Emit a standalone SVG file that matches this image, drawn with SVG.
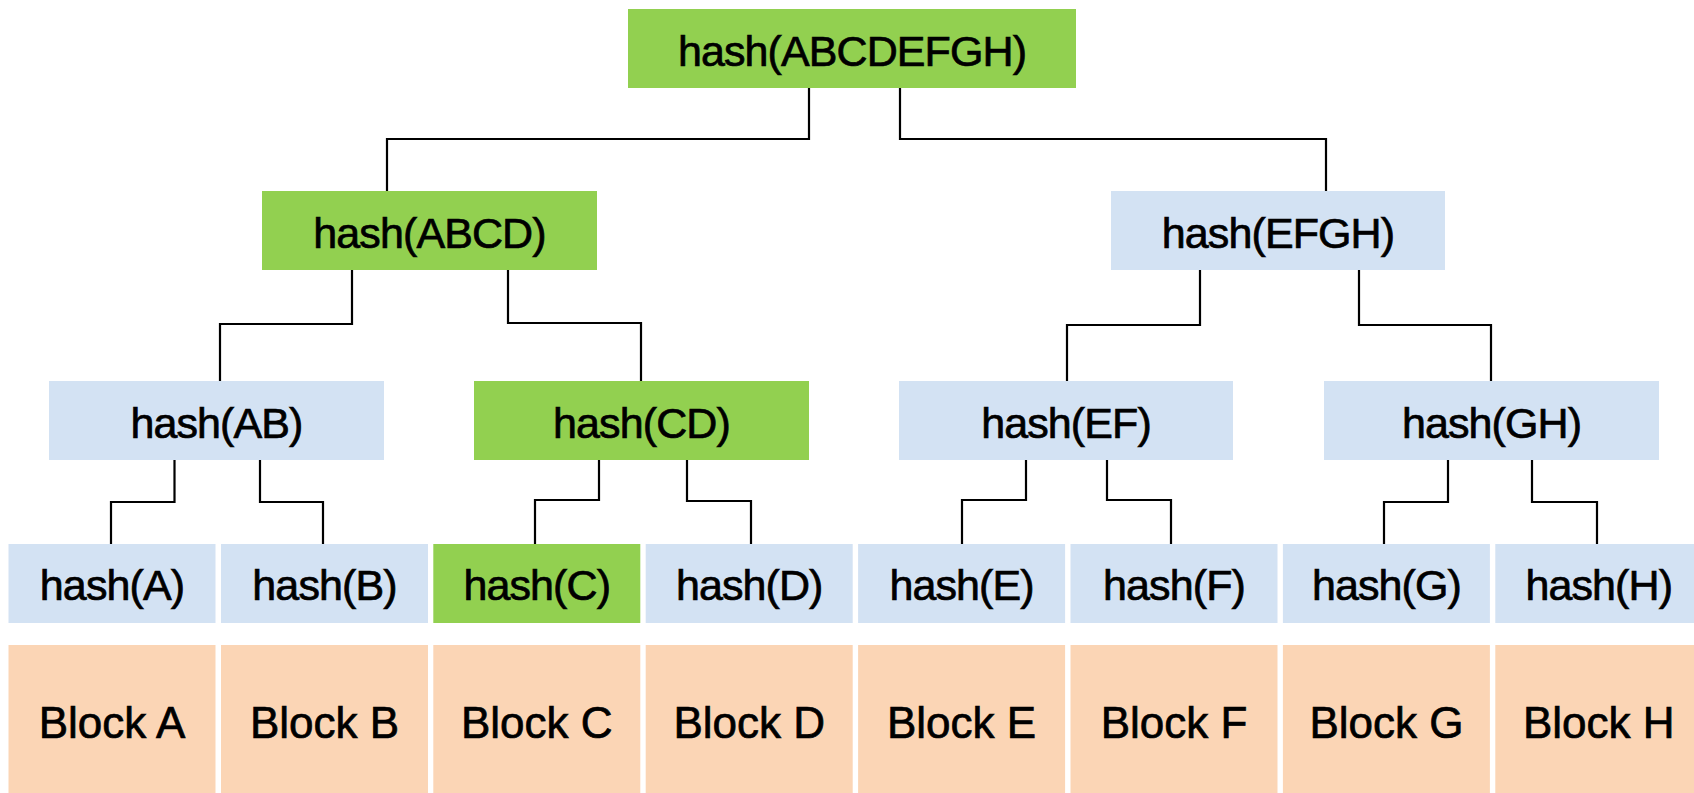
<svg xmlns="http://www.w3.org/2000/svg" width="1694" height="793" viewBox="0 0 1694 793">
<style>
.g{fill:#92D050}
.b{fill:#D3E2F3}
.p{fill:#FBD5B5}
.t{font-family:"Liberation Sans",Arial,Helvetica,sans-serif;font-size:43px;letter-spacing:-0.9px;fill:#000;stroke:#000;stroke-width:0.7px;text-anchor:middle}
.bt{font-family:"Liberation Sans",Arial,Helvetica,sans-serif;font-size:44px;fill:#000;stroke:#000;stroke-width:0.7px;text-anchor:middle}
.c polyline{fill:none;stroke:#000;stroke-width:2.2}
</style>
<rect width="1694" height="793" fill="#fff"/>
<g class="c" id="connectors">
<polyline points="809,88 809,139 387,139 387,191"/>
<polyline points="900,88 900,139 1326,139 1326,191"/>
<polyline points="352,270 352,324 220,324 220,381"/>
<polyline points="508,270 508,323 641,323 641,381"/>
<polyline points="1200,270 1200,325 1067,325 1067,381"/>
<polyline points="1359,270 1359,325 1491,325 1491,381"/>
<polyline points="174.5,460 174.5,502 111,502 111,544"/>
<polyline points="260,460 260,502 323,502 323,544"/>
<polyline points="599,460 599,500 535,500 535,544"/>
<polyline points="687,460 687,501 751,501 751,544"/>
<polyline points="1026,460 1026,500 962,500 962,544"/>
<polyline points="1107,460 1107,500 1171,500 1171,544"/>
<polyline points="1448,460 1448,502 1384,502 1384,544"/>
<polyline points="1532,460 1532,502 1597,502 1597,544"/>
</g>
<g id="root"><rect class="g" x="628" y="9" width="448" height="79"/><text class="t" x="852" y="65.5">hash(ABCDEFGH)</text></g>
<g id="abcd"><rect class="g" x="262" y="191" width="335" height="79"/><text class="t" x="429.5" y="247.5">hash(ABCD)</text></g>
<g id="efgh"><rect class="b" x="1111" y="191" width="334" height="79"/><text class="t" x="1278" y="247.5">hash(EFGH)</text></g>
<g id="ab"><rect class="b" x="49" y="381" width="335" height="79"/><text class="t" x="216.5" y="437.5">hash(AB)</text></g>
<g id="cd"><rect class="g" x="474" y="381" width="335" height="79"/><text class="t" x="641.5" y="437.5">hash(CD)</text></g>
<g id="ef"><rect class="b" x="899" y="381" width="334" height="79"/><text class="t" x="1066" y="437.5">hash(EF)</text></g>
<g id="gh"><rect class="b" x="1324" y="381" width="335" height="79"/><text class="t" x="1491.5" y="437.5">hash(GH)</text></g>
<g id="ha"><rect class="b" x="8.5" y="544" width="207" height="79"/><text class="t" x="112" y="599.5">hash(A)</text></g>
<g id="hb"><rect class="b" x="221" y="544" width="207" height="79"/><text class="t" x="324.5" y="599.5">hash(B)</text></g>
<g id="hc"><rect class="g" x="433.3" y="544" width="207" height="79"/><text class="t" x="536.8" y="599.5">hash(C)</text></g>
<g id="hd"><rect class="b" x="645.7" y="544" width="207" height="79"/><text class="t" x="749.2" y="599.5">hash(D)</text></g>
<g id="he"><rect class="b" x="858.1" y="544" width="207" height="79"/><text class="t" x="961.6" y="599.5">hash(E)</text></g>
<g id="hf"><rect class="b" x="1070.5" y="544" width="207" height="79"/><text class="t" x="1174" y="599.5">hash(F)</text></g>
<g id="hg"><rect class="b" x="1282.9" y="544" width="207" height="79"/><text class="t" x="1386.4" y="599.5">hash(G)</text></g>
<g id="hh"><rect class="b" x="1495.3" y="544" width="207" height="79"/><text class="t" x="1598.8" y="599.5">hash(H)</text></g>
<g id="ba"><rect class="p" x="8.5" y="645" width="207" height="148"/><text class="bt" x="112" y="738">Block A</text></g>
<g id="bb"><rect class="p" x="221" y="645" width="207" height="148"/><text class="bt" x="324.5" y="738">Block B</text></g>
<g id="bc"><rect class="p" x="433.3" y="645" width="207" height="148"/><text class="bt" x="536.8" y="738">Block C</text></g>
<g id="bd"><rect class="p" x="645.7" y="645" width="207" height="148"/><text class="bt" x="749.2" y="738">Block D</text></g>
<g id="be"><rect class="p" x="858.1" y="645" width="207" height="148"/><text class="bt" x="961.6" y="738">Block E</text></g>
<g id="bf"><rect class="p" x="1070.5" y="645" width="207" height="148"/><text class="bt" x="1174" y="738">Block F</text></g>
<g id="bg"><rect class="p" x="1282.9" y="645" width="207" height="148"/><text class="bt" x="1386.4" y="738">Block G</text></g>
<g id="bh"><rect class="p" x="1495.3" y="645" width="207" height="148"/><text class="bt" x="1598.8" y="738">Block H</text></g>
</svg>
